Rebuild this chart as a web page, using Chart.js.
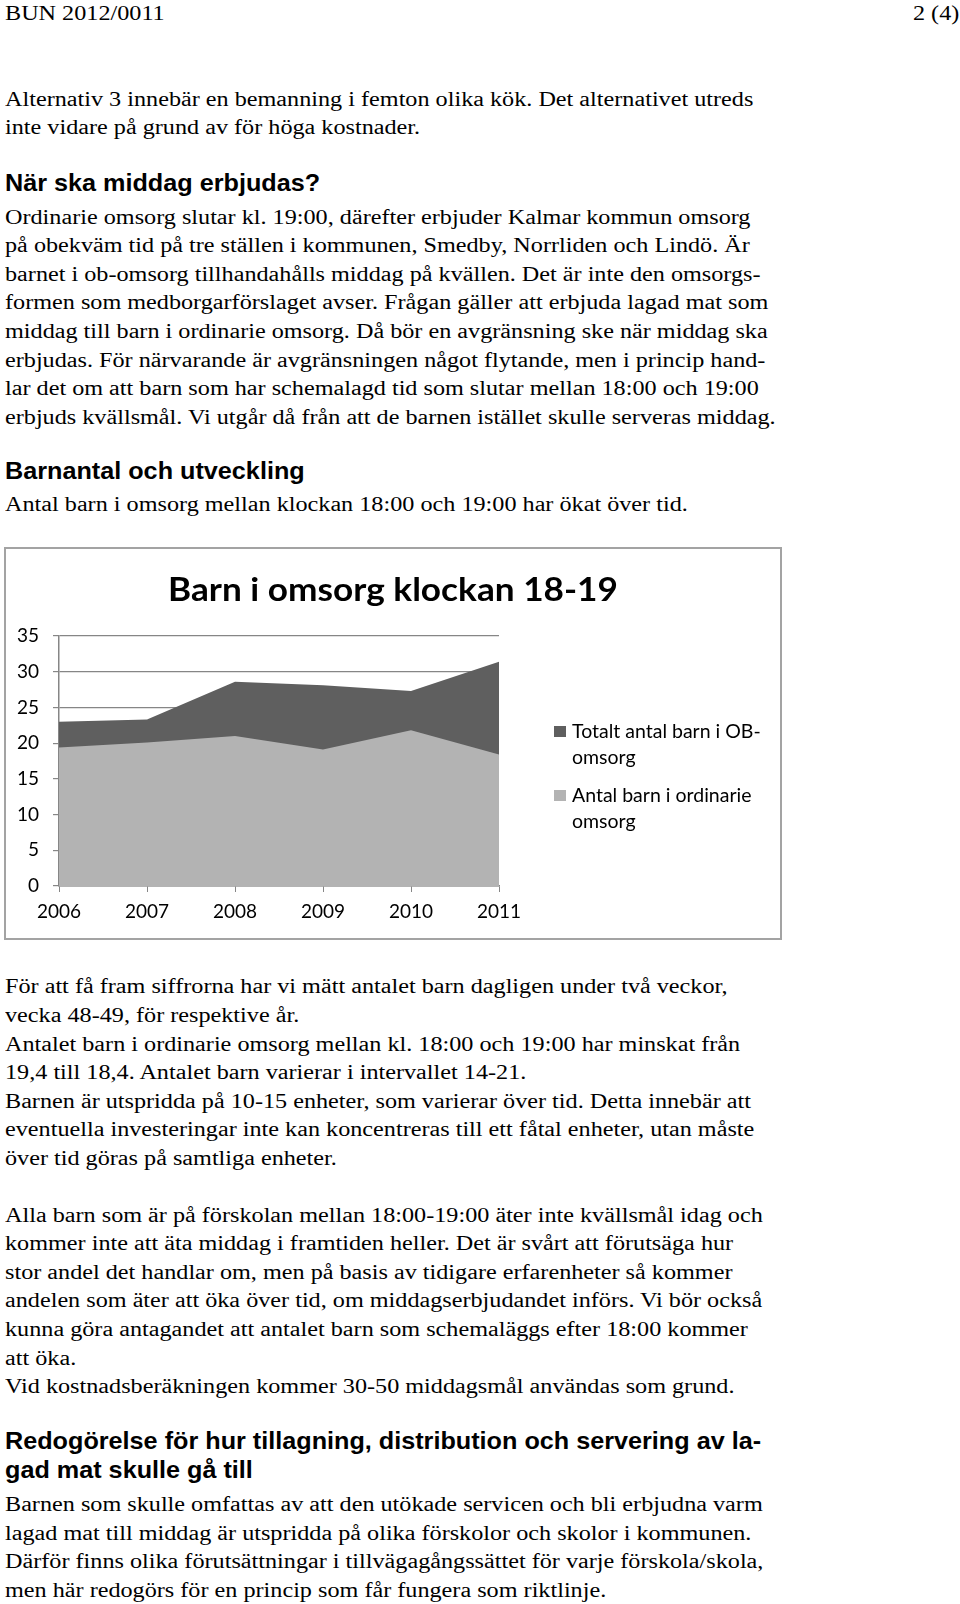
<!DOCTYPE html>
<html lang="sv">
<head>
<meta charset="UTF-8">
<title>BUN 2012/0011</title>
<style>
    body {
        margin: 0;
        width: 960px;
        height: 1604px;
        position: relative;
        background: #fff;
        color: #000;
        font-family: "Liberation Serif", serif;
        font-size: 20.5px;
        overflow: hidden;
    }
    .p {
        position: absolute;
        left: 5px;
        line-height: 28.6px;
        white-space: nowrap;
        transform: scaleX(1.18);
        transform-origin: 0 0;
    }
    .h {
        position: absolute;
        left: 5px;
        font-family: "Liberation Sans", Arial, sans-serif;
        font-weight: bold;
        font-size: 24px;
        line-height: 29px;
        white-space: nowrap;
        transform: scaleX(1.05);
        transform-origin: 0 0;
    }
    #chartBox {
        position: absolute;
        left: 4px;
        top: 547px;
        width: 774px;
        height: 389px;
        border: 2px solid #a3a3a3;
        background: #fff;
    }
    #chartBox canvas {
        position: absolute;
        left: 0;
        top: 0;
    }
    #chartTitle {
        position: absolute;
        left: 0;
        width: 774px;
        top: 20px;
        text-align: center;
        font-family: Lato, "Open Sans", sans-serif;
        font-weight: bold;
        font-size: 32px;
        line-height: 40px;
        white-space: nowrap;
        transform: scaleX(1.1);
    }
    .leg {
        position: absolute;
        font-family: Lato, "Open Sans", sans-serif;
        font-size: 19.5px;
        line-height: 26px;
        white-space: nowrap;
    }
    .leg span {
        position: absolute;
        left: -18px;
        top: 8px;
        width: 12px;
        height: 11px;
    }
</style>
</head>
<body>
    <div class="p" style="top:-1px">BUN 2012/0011</div>
    <div class="p" style="top:-1px; left:auto; right:1px; transform-origin:100% 0">2 (4)</div>

    <div class="p" style="top:84.7px">Alternativ 3 innebär en bemanning i femton olika kök. Det alternativet utreds<br>inte vidare på grund av för höga kostnader.</div>

    <div class="h" style="top:167.5px">När ska middag erbjudas?</div>
    <div class="p" style="top:202.7px">Ordinarie omsorg slutar kl. 19:00, därefter erbjuder Kalmar kommun omsorg<br>på obekväm tid på tre ställen i kommunen, Smedby, Norrliden och Lindö. Är<br>barnet i ob-omsorg tillhandahålls middag på kvällen. Det är inte den omsorgs-<br>formen som medborgarförslaget avser. Frågan gäller att erbjuda lagad mat som<br>middag till barn i ordinarie omsorg. Då bör en avgränsning ske när middag ska<br>erbjudas. För närvarande är avgränsningen något flytande, men i princip hand-<br>lar det om att barn som har schemalagd tid som slutar mellan 18:00 och 19:00<br>erbjuds kvällsmål. Vi utgår då från att de barnen istället skulle serveras middag.</div>

    <div class="h" style="top:455.5px">Barnantal och utveckling</div>
    <div class="p" style="top:490.3px">Antal barn i omsorg mellan klockan 18:00 och 19:00 har ökat över tid.</div>

    <div id="chartBox">
        <canvas id="chart" width="774" height="389"></canvas>
        <div id="chartTitle">Barn i omsorg klockan 18-19</div>
        <div id="legend"></div>
    </div>

    <div class="p" style="top:972.4px">För att få fram siffrorna har vi mätt antalet barn dagligen under två veckor,<br>vecka 48-49, för respektive år.<br>Antalet barn i ordinarie omsorg mellan kl. 18:00 och 19:00 har minskat från<br>19,4 till 18,4. Antalet barn varierar i intervallet 14-21.<br>Barnen är utspridda på 10-15 enheter, som varierar över tid. Detta innebär att<br>eventuella investeringar inte kan koncentreras till ett fåtal enheter, utan måste<br>över tid göras på samtliga enheter.</div>

    <div class="p" style="top:1200.7px">Alla barn som är på förskolan mellan 18:00-19:00 äter inte kvällsmål idag och<br>kommer inte att äta middag i framtiden heller. Det är svårt att förutsäga hur<br>stor andel det handlar om, men på basis av tidigare erfarenheter så kommer<br>andelen som äter att öka över tid, om middagserbjudandet införs. Vi bör också<br>kunna göra antagandet att antalet barn som schemaläggs efter 18:00 kommer<br>att öka.<br>Vid kostnadsberäkningen kommer 30-50 middagsmål användas som grund.</div>

    <div class="h" style="top:1425.5px">Redogörelse för hur tillagning, distribution och servering av la-<br>gad mat skulle gå till</div>
    <div class="p" style="top:1490.3px">Barnen som skulle omfattas av att den utökade servicen och bli erbjudna varm<br>lagad mat till middag är utspridda på olika förskolor och skolor i kommunen.<br>Därför finns olika förutsättningar i tillvägagångssättet för varje förskola/skola,<br>men här redogörs för en princip som får fungera som riktlinje.</div>

    <script src="https://cdn.jsdelivr.net/npm/chart.js"></script>
    <script>
        // values
        const years = ['2006', '2007', '2008', '2009', '2010', '2011'];
        const totalOB = [23.0, 23.3, 28.6, 28.1, 27.3, 31.4];
        const ordinary = [19.4, 20.1, 21.0, 19.1, 21.8, 18.4];
        const seriesNames = [['Totalt antal barn i OB-', 'omsorg'], ['Antal barn i ordinarie', 'omsorg']];
        const seriesColors = ['#5f5f5f', '#b3b3b3'];
        const yTicks = [0, 5, 10, 15, 20, 25, 30, 35];

        const axisColor = '#868686';
        const tickFont = { family: 'Lato, "Open Sans", sans-serif', size: 19 };

        // legend as html, wrapped like in the original
        const legendTops = [718, 782];
        document.getElementById('legend').innerHTML = seriesNames.map((name, i) => `
            <div class="leg" style="left:566px; top:${legendTops[i] - 549}px;">
                <span style="background:${seriesColors[i]}"></span>${name.join('<br>')}
            </div>`).join('');

        new Chart(document.getElementById('chart'), {
            type: 'line',
            data: {
                labels: years,
                datasets: [
                    {
                        // index 0 is drawn on top
                        label: seriesNames[1].join(' '),
                        data: ordinary,
                        backgroundColor: seriesColors[1],
                        borderWidth: 0,
                        pointRadius: 0,
                        fill: 'origin'
                    },
                    {
                        label: seriesNames[0].join(' '),
                        data: totalOB,
                        backgroundColor: seriesColors[0],
                        borderWidth: 0,
                        pointRadius: 0,
                        fill: 'origin'
                    }
                ]
            },
            options: {
                responsive: false,
                animation: false,
                layout: { padding: { left: 0, right: 281, top: 87, bottom: 0 } },
                plugins: {
                    legend: { display: false },
                    tooltip: { enabled: false },
                    title: { display: false }
                },
                scales: {
                    x: {
                        offset: false,
                        border: { color: axisColor, width: 1.5 },
                        grid: { drawOnChartArea: false, drawTicks: true, tickLength: 6, color: axisColor },
                        ticks: { color: '#000', font: tickFont, padding: 8, maxRotation: 0 },
                        afterFit: s => { s.height = 52; }
                    },
                    y: {
                        min: 0,
                        max: 35,
                        border: { color: axisColor, width: 1.5 },
                        grid: { color: axisColor, lineWidth: 1.2, tickLength: 6 },
                        afterBuildTicks: s => { s.ticks = yTicks.map(v => ({ value: v })); },
                        ticks: { color: '#000', font: tickFont, padding: 14 },
                        afterFit: s => { s.width = 53; }
                    }
                }
            }
        });
    </script>
</body>
</html>
